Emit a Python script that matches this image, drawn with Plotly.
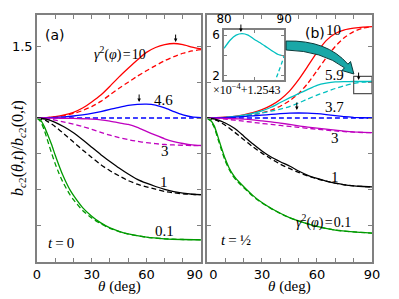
import plotly.graph_objects as go

# ---------------- data ----------------
theta = [0, 5, 10, 15, 20, 25, 30, 35, 40, 45, 50, 55, 60, 65, 70, 75, 80, 85, 90]
theta_g = [0, 2, 4, 6, 8, 10, 12, 14, 16, 18, 20, 25, 30, 35, 40, 45, 50, 60, 70, 80, 90]

# panel (a), t = 0
a_red_s = [1.0, 1.003, 1.010, 1.022, 1.040, 1.070, 1.112, 1.160, 1.222, 1.287, 1.347, 1.405, 1.458, 1.492, 1.512, 1.520, 1.512, 1.495, 1.482]
a_red_d = [1.0, 1.002, 1.008, 1.017, 1.032, 1.052, 1.080, 1.116, 1.162, 1.208, 1.250, 1.292, 1.330, 1.366, 1.400, 1.428, 1.452, 1.468, 1.477]
a_blue_s = [1.0, 1.001, 1.004, 1.008, 1.014, 1.022, 1.032, 1.045, 1.060, 1.075, 1.088, 1.095, 1.097, 1.090, 1.070, 1.045, 1.022, 1.008, 1.002]
a_blue_d = [1.0] * 19
a_mag_s = [1.0, 1.0, 0.999, 0.998, 0.997, 0.995, 0.992, 0.987, 0.978, 0.966, 0.955, 0.935, 0.907, 0.880, 0.855, 0.836, 0.822, 0.812, 0.808]
a_mag_d = [1.0, 0.995, 0.985, 0.972, 0.957, 0.940, 0.921, 0.900, 0.880, 0.863, 0.849, 0.837, 0.828, 0.821, 0.815, 0.812, 0.810, 0.808, 0.807]
a_blk_s = [1.0, 0.992, 0.970, 0.937, 0.897, 0.848, 0.796, 0.744, 0.697, 0.651, 0.609, 0.572, 0.545, 0.522, 0.502, 0.486, 0.475, 0.468, 0.465]
a_blk_d = [1.0, 0.982, 0.940, 0.887, 0.832, 0.777, 0.725, 0.674, 0.632, 0.596, 0.563, 0.538, 0.519, 0.503, 0.488, 0.478, 0.471, 0.467, 0.465]
a_grn_s = [1.0, 0.985, 0.94, 0.88, 0.815, 0.74, 0.67, 0.605, 0.55, 0.50, 0.46, 0.375, 0.315, 0.268, 0.233, 0.209, 0.191, 0.168, 0.157, 0.152, 0.150]
a_grn_d = [1.0, 0.975, 0.915, 0.835, 0.755, 0.68, 0.615, 0.558, 0.51, 0.466, 0.43, 0.355, 0.302, 0.262, 0.230, 0.207, 0.190, 0.168, 0.157, 0.152, 0.150]

# panel (b), t = 1/2
b_red_s = [1.0, 1.002, 1.006, 1.012, 1.022, 1.037, 1.058, 1.088, 1.130, 1.188, 1.268, 1.362, 1.458, 1.540, 1.590, 1.615, 1.627, 1.635, 1.638]
b_red_d = [1.0, 1.001, 1.004, 1.008, 1.014, 1.023, 1.036, 1.055, 1.082, 1.120, 1.170, 1.242, 1.330, 1.420, 1.500, 1.562, 1.603, 1.627, 1.638]
b_cyn_s = [1.0, 1.001, 1.005, 1.011, 1.020, 1.033, 1.050, 1.075, 1.108, 1.140, 1.170, 1.200, 1.228, 1.243, 1.252, 1.2540, 1.2547, 1.2548, 1.2547]
b_cyn_d = [1.0, 1.001, 1.003, 1.007, 1.013, 1.022, 1.035, 1.048, 1.062, 1.080, 1.105, 1.133, 1.160, 1.183, 1.206, 1.226, 1.242, 1.251, 1.2547]
b_blue_s = [1.0, 1.001, 1.003, 1.006, 1.010, 1.015, 1.020, 1.025, 1.030, 1.034, 1.035, 1.034, 1.030, 1.024, 1.017, 1.010, 1.005, 1.002, 1.0]
b_blue_d = [1.0] * 19
b_mag_s = [1.0, 0.9995, 0.998, 0.995, 0.992, 0.987, 0.980, 0.973, 0.965, 0.955, 0.945, 0.937, 0.930, 0.922, 0.915, 0.908, 0.903, 0.900, 0.898]
b_mag_d = [1.0, 0.997, 0.992, 0.985, 0.978, 0.970, 0.962, 0.955, 0.948, 0.941, 0.935, 0.928, 0.922, 0.916, 0.910, 0.905, 0.902, 0.899, 0.898]
b_blk_s = [1.0, 0.990, 0.965, 0.928, 0.875, 0.820, 0.770, 0.728, 0.695, 0.665, 0.630, 0.600, 0.578, 0.560, 0.545, 0.534, 0.527, 0.522, 0.520]
b_blk_d = [1.0, 0.985, 0.950, 0.902, 0.850, 0.800, 0.755, 0.715, 0.678, 0.648, 0.620, 0.596, 0.576, 0.559, 0.545, 0.534, 0.527, 0.522, 0.520]
b_grn_s = [1.0, 0.985, 0.945, 0.87, 0.79, 0.715, 0.655, 0.61, 0.575, 0.548, 0.522, 0.46, 0.41, 0.37, 0.335, 0.305, 0.282, 0.243, 0.218, 0.205, 0.197]
b_grn_d = [1.0, 0.980, 0.935, 0.855, 0.775, 0.70, 0.645, 0.60, 0.567, 0.540, 0.515, 0.455, 0.407, 0.368, 0.334, 0.304, 0.281, 0.243, 0.218, 0.205, 0.197]

# inset: (value - 1.2543) / 1e-4
inset_theta_s = [80, 81, 82, 83, 84, 85, 86, 87, 88, 89, 90]
inset_s = [4.7, 5.5, 6.0, 6.15, 6.0, 5.6, 5.25, 4.85, 4.45, 4.1, 3.95]
inset_theta_d = [88.3, 89.0, 89.5, 90.0]
inset_d = [1.2, 2.3, 3.1, 3.95]

yticks = [0, 0.25, 0.5, 0.75, 1.0, 1.25, 1.5]
ytick_text = ["", "", "", "", "", "", "1.5"]
xticks = [0, 10, 20, 30, 40, 50, 60, 70, 80, 90]
xtick_text_a = ["0", "", "", "30", "", "", "60", "", "", "90\u2003"]
xtick_text_b = ["\u2002\u20020", "", "", "30", "", "", "60", "", "", "90"]

RED, BLUE, MAG, BLK, GRN, CYN = "#ff0000", "#0000ff", "#bf00bf", "#000000", "#009a00", "#00c0c0"

# ---------------- figure ----------------
W, H = 399, 299
L, R, T, B = 36, 12, 15, 37
PW, PH = W - L - R, H - T - B


def px(x):
    return (x - L) / PW


def py(y):
    return (H - B - y) / PH


fig = go.Figure()


def add(xs, ys, color, dash, xa, ya):
    fig.add_trace(go.Scatter(x=xs, y=ys, mode="lines", xaxis=xa, yaxis=ya,
                             line=dict(color=color, width=1.3, dash=dash, shape="spline", smoothing=0.6),
                             showlegend=False, hoverinfo="skip"))


DASH = "5px,3px"
for xa, ya, curves in [
    ("x", "y", [(theta, a_red_s, RED, "solid"), (theta, a_red_d, RED, DASH),
                (theta, a_blue_s, BLUE, "solid"), (theta, a_blue_d, BLUE, DASH),
                (theta, a_mag_s, MAG, "solid"), (theta, a_mag_d, MAG, DASH),
                (theta, a_blk_s, BLK, "solid"), (theta, a_blk_d, BLK, DASH),
                (theta_g, a_grn_s, GRN, "solid"), (theta_g, a_grn_d, GRN, DASH)]),
    ("x2", "y2", [(theta, b_red_s, RED, "solid"), (theta, b_red_d, RED, DASH),
                  (theta, b_cyn_s, CYN, "solid"), (theta, b_cyn_d, CYN, DASH),
                  (theta, b_blue_s, BLUE, "solid"), (theta, b_blue_d, BLUE, DASH),
                  (theta, b_mag_s, MAG, "solid"), (theta, b_mag_d, MAG, DASH),
                  (theta, b_blk_s, BLK, "solid"), (theta, b_blk_d, BLK, DASH),
                  (theta_g, b_grn_s, GRN, "solid"), (theta_g, b_grn_d, GRN, DASH)]),
]:
    for xs, ys, c, d in curves:
        add(xs, ys, c, d, xa, ya)

add(inset_theta_s, inset_s, CYN, "solid", "x3", "y3")
add(inset_theta_d, inset_d, CYN, "4px,3px", "x3", "y3")

GRAY = "#808080"
TICKFONT = dict(family="DejaVu Sans", size=13, color="black")
common = dict(showline=True, linecolor=GRAY, linewidth=1.6, mirror="ticks", ticks="inside",
              ticklen=4, tickcolor=GRAY, tickwidth=1, showgrid=False, zeroline=False,
              tickfont=TICKFONT, fixedrange=True)
YR = [-0.005, 1.719]
small = {**common, "tickfont": dict(family="DejaVu Sans", size=12, color="black"), "ticklen": 3}

fig.update_layout(
    width=W, height=H, margin=dict(l=L, r=R, t=T, b=B),
    paper_bgcolor="white", plot_bgcolor="white",
    xaxis=dict(domain=[0, px(208)], range=[0, 90], tickvals=xticks, ticktext=xtick_text_a, anchor="y", **common),
    yaxis=dict(domain=[0, 1], range=YR, tickvals=yticks, ticktext=ytick_text, anchor="x", **common),
    xaxis2=dict(domain=[px(214), 1], range=[0, 90], tickvals=xticks, ticktext=xtick_text_b, anchor="y2", **common),
    yaxis2=dict(domain=[0, 1], range=YR, tickvals=yticks, ticktext=[" "] * 7, anchor="x2", **common),
    xaxis3=dict(domain=[px(232), px(295)], range=[80, 90], tickvals=[80, 85, 90], ticktext=["80", " ", "90"],
                side="top", anchor="y3", **small),
    yaxis3=dict(domain=[py(80), py(30)], range=[1.6, 6.5], tickvals=[2, 4, 6], ticktext=["2", " ", "6"],
                anchor="x3", **small),
)

SERIF = "Liberation Serif"
ann = []


def text(x, y, s, size=15, family=SERIF, angle=0):
    ann.append(dict(x=px(x), y=py(y), xref="paper", yref="paper", text=s, showarrow=False,
                    xanchor="center", yanchor="middle", textangle=angle,
                    font=dict(family=family, size=size, color="black")))


text(55, 35, "(a)", size=14, family="DejaVu Sans")
text(327, 33, "(b)", size=14, family="DejaVu Sans")
text(123, 53, "<i>γ</i><sup>2</sup>(<i>φ</i>)\u200a=\u200a10", size=14)
text(169, 100, "4.6")
text(170, 151, "3")
text(169, 182, "1")
text(170, 231, "0.1")
text(61, 243, "<i>t</i>\u2009=\u20090")
text(347, 30, "10")
text(348, 75, "5.9")
text(348, 107, "3.7")
text(348, 138, "3")
text(348, 177, "1")
text(336, 221, "<i>γ</i><sup>2</sup>(<i>φ</i>)\u200a=\u200a0.1", size=14)
text(244, 240, "<i>t</i>\u2009=\u2009½")
text(255, 89, "×10<sup>−4</sup>+1.2543", size=12)
text(122, 286, "<i>θ</i> (deg)", size=15)
text(301, 286, "<i>θ</i> (deg)", size=15)
text(16, 148, "<i>b</i><sub><i>c</i>2</sub>(<i>θ</i>,<i>t</i>)/<i>b</i><sub><i>c</i>2</sub>(0,<i>t</i>)", size=16, angle=-90)

# peak markers (small down arrows)
for xr, yr, xv, yv in [("x", "y", 76, 1.53), ("x", "y", 56, 1.112),
                       ("x2", "y2", 49, 1.056), ("x2", "y2", 82.7, 1.265), ("x3", "y3", 82.8, 6.3)]:
    ann.append(dict(x=xv, y=yv, xref=xr, yref=yr, ax=0, ay=-9, showarrow=True, text="",
                    arrowhead=2, arrowsize=0.7, arrowwidth=1, arrowcolor="black"))

fig.update_layout(annotations=ann)

# zoom-region box and the curved arrow pointing to it
shapes = [dict(type="rect", xref="x2", yref="y2", x0=80, x1=90, y0=1.17, y1=1.29,
               line=dict(color="#555555", width=1.2), fillcolor="rgba(0,0,0,0)")]
pts = lambda x, y: f"{px(x):.4f},{py(y):.4f}"
path = ("M " + pts(297, 41) + " Q " + pts(340, 40) + " " + pts(361.8, 64.2) +
        " L " + pts(364.5, 61.5) + " L " + pts(368, 74) + " L " + pts(355.5, 70.5) +
        " L " + pts(358.2, 67.8) + " Q " + pts(335, 51) + " " + pts(297, 50) + " Z")
shapes.append(dict(type="path", xref="paper", yref="paper", path=path,
                   fillcolor="#1aa7a7", line=dict(color="#0a3a3a", width=1)))
fig.update_layout(shapes=shapes)

# the page body's default 8px margin would shift the figure; remove it
fig.write_html("out.html", config={"displayModeBar": False},
               post_script="document.body.style.margin='0px';")
